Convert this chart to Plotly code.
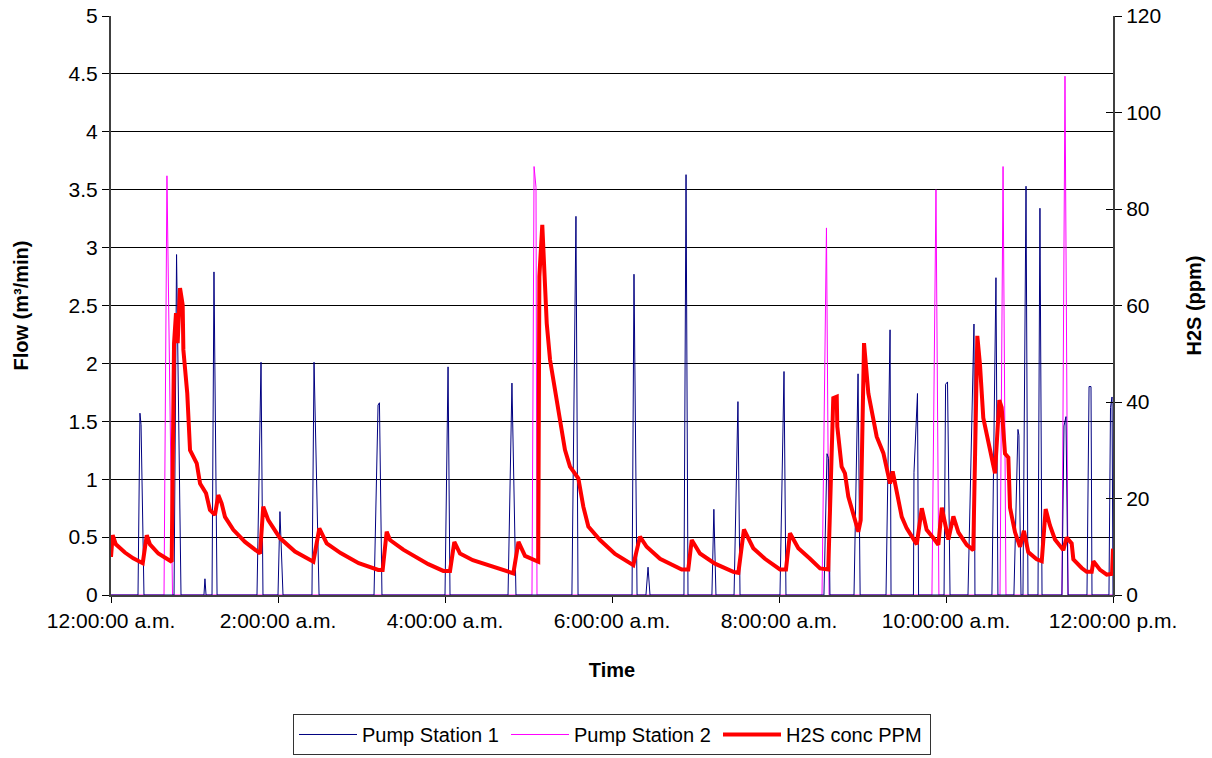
import plotly.graph_objects as go

# ---- Data (time in minutes after midnight) ----
tick_minutes = [0, 120, 240, 360, 480, 600, 720]
tick_labels = ["12:00:00 a.m.", "2:00:00 a.m.", "4:00:00 a.m.", "6:00:00 a.m.",
               "8:00:00 a.m.", "10:00:00 a.m.", "12:00:00 p.m."]

ps1_min = [0, 19.4, 20.8, 21.6, 23.7, 45.3, 47.1, 49.6, 50.3, 66.8, 67.5, 68.3,
           72.6, 74.0, 76.2, 104.9, 107.8, 109.2, 120.0, 121.4, 123.6, 144.4, 145.9, 149.5,
           189.0, 191.9, 192.9, 194.7, 240.0, 242.2, 243.6, 285.3, 288.1, 291.0,
           331.2, 334.1, 335.6, 374.4, 375.8, 378.0, 384.4, 385.9, 387.3,
           411.7, 413.2, 414.6, 431.8, 433.2, 434.7, 447.7, 450.5, 452.0,
           480.7, 483.6, 485.0, 512.3, 514.5, 515.6, 516.6, 533.9, 536.8, 538.3,
           556.9, 559.8, 560.5, 576.6, 577.0, 579.5, 580.3, 598.6, 599.7, 601.1, 602.9,
           615.8, 620.1, 620.8, 633.0, 635.9, 637.3, 648.8, 651.7, 652.4, 653.9,
           655.3, 657.5, 658.9, 666.1, 667.5, 669.0, 683.3, 684.8, 686.2, 687.7,
           701.3, 702.8, 704.2, 704.9, 717.1, 718.2, 719.3, 720.0]
ps1_flow = [0, 0, 1.57, 1.47, 0, 0, 2.94, 0.2, 0, 0, 0.14, 0,
            0, 2.79, 0, 0, 2.01, 0, 0, 0.72, 0, 0, 2.01, 0,
            0, 1.64, 1.66, 0, 0, 1.97, 0, 0, 1.83, 0,
            0, 3.27, 0, 0, 2.77, 0, 0, 0.24, 0,
            0, 3.63, 0, 0, 0.74, 0, 0, 1.67, 0,
            0, 1.93, 0, 0, 1.22, 1.18, 0, 0, 1.91, 0,
            0, 2.29, 0, 0, 1.06, 1.74, 0, 0, 1.82, 1.84, 0,
            0, 2.34, 0, 0, 2.74, 0, 0, 1.43, 1.38, 0,
            0, 3.53, 0, 0, 3.34, 0, 0, 1.46, 1.54, 0,
            0, 1.80, 1.80, 0, 0, 1.62, 1.71, 0]

ps2_min = [0, 38.1, 40.2, 40.9, 44.2, 302.5, 304.0, 305.4, 306.1,
           510.9, 514.1, 516.0, 589.9, 592.8, 594.9, 638.8, 641.0, 643.1,
           683.3, 685.5, 687.7, 720]
ps2_flow = [0, 0, 3.62, 3.0, 0, 0, 3.70, 3.52, 0,
            0, 3.17, 0, 0, 3.50, 0, 0, 3.70, 0,
            0, 4.48, 0, 0]

h2s_min = [0, 1.2, 3.5, 10, 16, 22.8, 25.7, 28, 34, 43.6, 45.3, 46.7, 47.9, 49.6,
           51.5, 52.0, 54.8, 55.3, 56.8, 61.6, 64.0, 68.3, 71.1, 74.7, 77.1, 79.5,
           81.9, 87.9, 96.3, 107.1, 109.4, 113.0, 121.4, 132.2, 145.4, 149.7, 155.0,
           165, 178, 192.1, 195.2, 198.1, 200.5, 210, 218.4, 228, 238.8, 243.6,
           246.7, 250.8, 260, 272.3, 280, 289.1, 292.8, 297.5, 307.0, 307.8, 309.9,
           311.9, 313.1, 315.5, 319.0, 322.6, 326.2, 329.8, 335.8, 339.4, 343.0,
           351.4, 362.2, 375.3, 380.1, 384.9, 394.5, 410.1, 414.8, 417.3, 423.2,
           434.0, 447.2, 450.8, 454.8, 461.5, 469.9, 480.7, 485.0, 487.9, 493.9,
           502.3, 509.5, 515.4, 519.0, 521.5, 521.9, 525.0, 527.4, 529.8, 533.4,
           537.0, 538.7, 541.1, 544.2, 547.8, 550.2, 555.0, 558.6, 559.8, 561.7,
           564.6, 568.2, 571.8, 579.0, 582.6, 586.1, 590.9, 594.5, 597.0, 599.3,
           601.7, 605.3, 608.9, 614.9, 619.6, 622.5, 624.4, 626.8, 630.4, 635.2,
           638.3, 640.0, 642.4, 644.8, 646.0, 649.6, 653.2, 656.0, 659.1, 665.2,
           668.8, 671.6, 674.7, 678.3, 684.3, 686.7, 690.3, 691.5, 697.5, 701.1,
           704.7, 705.9, 710.7, 715.5, 719.3, 720.0]
h2s_ppm = [7.9, 12.4, 10.5, 8.8, 7.6, 6.6, 12.4, 10.5, 8.6, 6.9, 52.2, 58.4, 52.2, 63.6,
           60.1, 50.8, 41.8, 38.0, 30.0, 27.3, 23.1, 21.1, 17.6, 16.6, 20.7, 19.0,
           16.2, 13.5, 11.0, 8.6, 18.3, 15.5, 11.8, 9.0, 6.9, 13.8, 10.7,
           8.7, 6.6, 5.2, 5.2, 13.1, 11.4, 9.4, 7.9, 6.4, 5.0, 5.0,
           11.0, 8.6, 7.2, 6.0, 5.3, 4.5, 11.0, 8.1, 6.9, 66.0, 76.7,
           66.0, 56.3, 48.7, 42.5, 36.3, 30.1, 26.6, 24.2, 18.3, 14.2,
           11.4, 8.5, 6.2, 12.1, 10.0, 7.5, 5.3, 5.3, 11.4, 8.6,
           6.5, 4.8, 4.6, 13.6, 9.7, 7.5, 5.3, 5.3, 12.8, 9.7,
           7.5, 5.5, 5.3, 40.8, 41.1, 34.9, 26.6, 25.2, 20.4, 16.9,
           13.1, 15.5, 52.2, 41.8, 36.3, 32.8, 29.4, 25.2, 23.1, 25.6,
           21.1, 16.2, 13.8, 10.5, 18.0, 13.5, 11.8, 10.4, 18.1, 15.2,
           11.5, 16.3, 13.0, 10.4, 9.3, 53.7, 47.8, 36.7, 31.5, 25.2,
           40.4, 38.9, 29.3, 28.5, 18.1, 13.0, 10.0, 13.3, 8.9, 7.4,
           7.0, 17.8, 14.4, 11.5, 9.3, 11.9, 10.7, 7.4, 5.6, 4.8,
           4.8, 7.0, 5.2, 4.2, 4.4, 9.6]

FONT = "Liberation Sans, Arial, sans-serif"

fig = go.Figure()
# PS2 drawn first so the dark PS1 baseline sits on top along the x axis
fig.add_trace(go.Scatter(x=ps2_min, y=ps2_flow, mode="lines", name="Pump Station 2",
                         legendrank=2, line=dict(color="#FF00FF", width=1)))
fig.add_trace(go.Scatter(x=ps1_min, y=ps1_flow, mode="lines", name="Pump Station 1",
                         legendrank=1, line=dict(color="#000080", width=1)))
fig.add_trace(go.Scatter(x=h2s_min, y=h2s_ppm, mode="lines", name="H2S conc PPM",
                         legendrank=3, yaxis="y2", line=dict(color="#FF0000", width=4)))
# helper trace for inner tick marks on the right axis
fig.add_trace(go.Scatter(x=[None], y=[None], yaxis="y3", showlegend=False,
                         hoverinfo="skip"))

fig.update_layout(
    width=1212, height=758,
    margin=dict(l=111, r=99, t=16, b=163, autoexpand=False),
    paper_bgcolor="white", plot_bgcolor="white",
    font=dict(family=FONT, size=21, color="black"),
    showlegend=True,
    legend=dict(orientation="h", x=0.5, xanchor="center", y=-0.2055, yanchor="top",
                bordercolor="#333333", borderwidth=1, font=dict(size=20),
                itemwidth=58, entrywidth=139),
    xaxis=dict(range=[0, 720], tickmode="array", tickvals=tick_minutes,
               ticktext=tick_labels, showgrid=False, zeroline=False,
               showline=True, linecolor="#404040", linewidth=2,
               ticks="outside", ticklen=6, tickcolor="black",
               title=dict(text="<b>Time</b>", font=dict(size=20), standoff=32)),
    yaxis=dict(range=[0, 5], tickmode="linear", tick0=0, dtick=0.5,
               showgrid=True, gridcolor="black", gridwidth=1, zeroline=False,
               showline=True, linecolor="#404040", linewidth=2,
               ticks="outside", ticklen=7, tickcolor="black",
               title=dict(text="<b>Flow (m³/min)</b>", font=dict(size=20), standoff=35)),
    yaxis2=dict(range=[0, 120], tickmode="linear", tick0=0, dtick=20,
                overlaying="y", side="right", showgrid=False, zeroline=False,
                showline=True, linecolor="#404040", linewidth=2,
                ticks="outside", ticklen=7, tickcolor="black",
                title=dict(text="<b>H2S (ppm)</b>", font=dict(size=20), standoff=27)),
    yaxis3=dict(range=[0, 120], tickmode="linear", tick0=0, dtick=20,
                overlaying="y", side="right", showgrid=False, zeroline=False,
                showline=False, showticklabels=False,
                ticks="inside", ticklen=7, tickcolor="black"),
)

fig.write_html("out.html")
